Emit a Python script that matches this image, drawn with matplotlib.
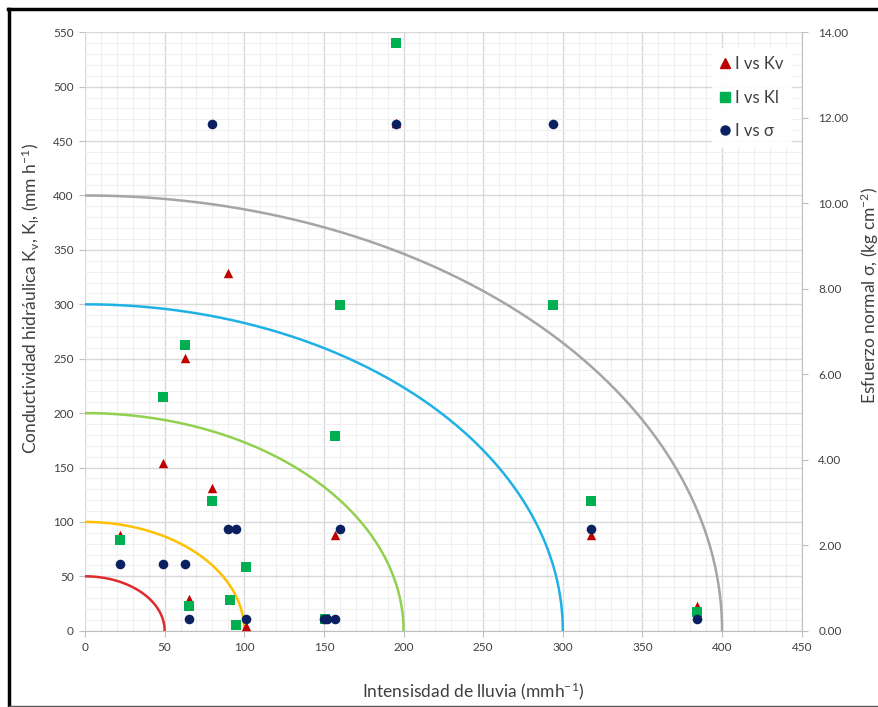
import numpy as np
import matplotlib
matplotlib.use("Agg")
import matplotlib.pyplot as plt
from matplotlib.lines import Line2D
from matplotlib.ticker import MultipleLocator, FormatStrFormatter

plt.rcParams['font.family'] = ['Lato', 'DejaVu Sans']
plt.rcParams['mathtext.fontset'] = 'custom'
plt.rcParams['mathtext.rm'] = 'Lato'
plt.rcParams['mathtext.it'] = 'Lato'

# ---- data ----
kv_x = [22, 49, 63, 80, 90, 65, 101, 157, 195, 318, 384]
kv_y = [88, 154, 251, 131, 329, 29, 4, 88, 467, 88, 23]

kl_x = [22, 49, 63, 65, 80, 91, 95, 101, 151, 157, 160, 195, 294, 318, 384]
kl_y = [83, 215, 263, 23, 119, 28, 5, 59, 11, 179, 299, 540, 299, 119, 17]

sg_x = [22, 49, 63, 65, 80, 90, 95, 101, 150, 152, 157, 160, 195, 294, 318, 384]
sg_y = [1.56, 1.56, 1.56, 0.28, 11.86, 2.37, 2.37, 0.28, 0.28, 0.28, 0.28, 2.37, 11.86, 11.86, 2.37, 0.28]

radii = [50, 100, 200, 300, 400]
radius_colors = ['#E02B2B', '#FFC000', '#92D050', '#1FB1E6', '#A5A5A5']

x_ticks = [0, 50, 100, 150, 200, 250, 300, 350, 400, 450]
y_ticks = [0, 50, 100, 150, 200, 250, 300, 350, 400, 450, 500, 550]
y2_ticks = [0, 2, 4, 6, 8, 10, 12, 14]

# ---- figure ----
fig = plt.figure(figsize=(8.79, 7.07), dpi=100)
ax = fig.add_axes([85/879, 1-630.7/707, (801.7-85)/879, (630.7-32.3)/707])
ax2 = ax.twinx()

ax.set_xlim(0, 450)
ax.set_ylim(0, 550)
ax2.set_ylim(0, 14)
ax.set_xticks(x_ticks)
ax.set_yticks(y_ticks)
ax2.set_yticks(y2_ticks)
ax2.yaxis.set_major_formatter(FormatStrFormatter('%.2f'))
ax.xaxis.set_minor_locator(MultipleLocator(10))
ax.yaxis.set_minor_locator(MultipleLocator(10))

ax.grid(True, which='major', color='#D9D9D9', lw=1.0, zorder=0)
ax.grid(True, which='minor', color='#EFEFEF', lw=0.8, zorder=0)
ax.set_axisbelow(True)

for a in (ax, ax2):
    for s in a.spines.values():
        s.set_visible(False)
ax.spines['bottom'].set_visible(True)
ax.spines['bottom'].set_color('#BFBFBF')
ax2.spines['right'].set_visible(True)
ax2.spines['right'].set_color('#BFBFBF')

ax.tick_params(axis='both', which='major', labelsize=8.5, colors='#404040',
               length=4, color='#BFBFBF', pad=4)
ax.tick_params(axis='both', which='minor', length=0)
ax2.tick_params(axis='y', which='major', labelsize=8.5, colors='#404040',
                length=4, color='#BFBFBF', pad=8)

# quarter circles
t = np.linspace(0, np.pi/2, 300)
for r, c in zip(radii, radius_colors):
    ax.plot(r*np.cos(t), r*np.sin(t), color=c, lw=1.8, zorder=2)

# series
ax.scatter(kv_x, kv_y, marker='^', s=46, color='#C00000', zorder=3, linewidths=0)
ax.scatter(kl_x, kl_y, marker='s', s=46, color='#00B050', zorder=4, linewidths=0)
ax2.scatter(sg_x, sg_y, marker='o', s=48, color='#0B2060', zorder=5, linewidths=0)

ax.set_xlabel('Intensisdad de lluvia (mmh$^{-1}$)', fontsize=12.5, color='#404040')
ax.xaxis.set_label_coords(0.541, -0.083)
ax.set_ylabel('Conductividad hidráulica K$_v$, K$_l$, (mm h$^{-1}$)', fontsize=12.5,
              color='#404040')
ax.yaxis.set_label_coords(-0.062, 0.555)
ax2.set_ylabel('Esfuerzo normal σ, (kg cm$^{-2}$)', fontsize=12.5, color='#404040')
ax2.yaxis.set_label_coords(1.079, 0.56)

handles = [
    Line2D([], [], marker='^', color='#C00000', ls='none', markersize=7),
    Line2D([], [], marker='s', color='#00B050', ls='none', markersize=6.5),
    Line2D([], [], marker='o', color='#0B2060', ls='none', markersize=6.5),
]
leg = ax2.legend(handles, ['I vs Kv', 'I vs Kl', 'I vs σ'], loc='upper left',
                 bbox_to_anchor=((712-85)/(801.7-85), 1-(48-32.3)/(630.7-32.3)),
                 frameon=True, fontsize=12, handlelength=0.6, handletextpad=0.3,
                 labelspacing=1.05, borderpad=0.5, borderaxespad=0)
leg.get_frame().set_edgecolor('none')
leg.get_frame().set_facecolor('white')
leg.get_frame().set_alpha(0.9)
for txt in leg.get_texts():
    txt.set_color('#404040')

# outer frame
fig.add_artist(Line2D([8/879, 1], [1-9/707, 1-9/707], color='black', lw=2.5,
                      transform=fig.transFigure))
fig.add_artist(Line2D([9/879, 9/879], [0, 1-9/707], color='black', lw=2.5,
                      transform=fig.transFigure))
fig.add_artist(Line2D([9/879, 1], [1-705.5/707, 1-705.5/707], color='#555555', lw=1.0,
                      transform=fig.transFigure))

fig.savefig('out.png', dpi=100, facecolor='white')
